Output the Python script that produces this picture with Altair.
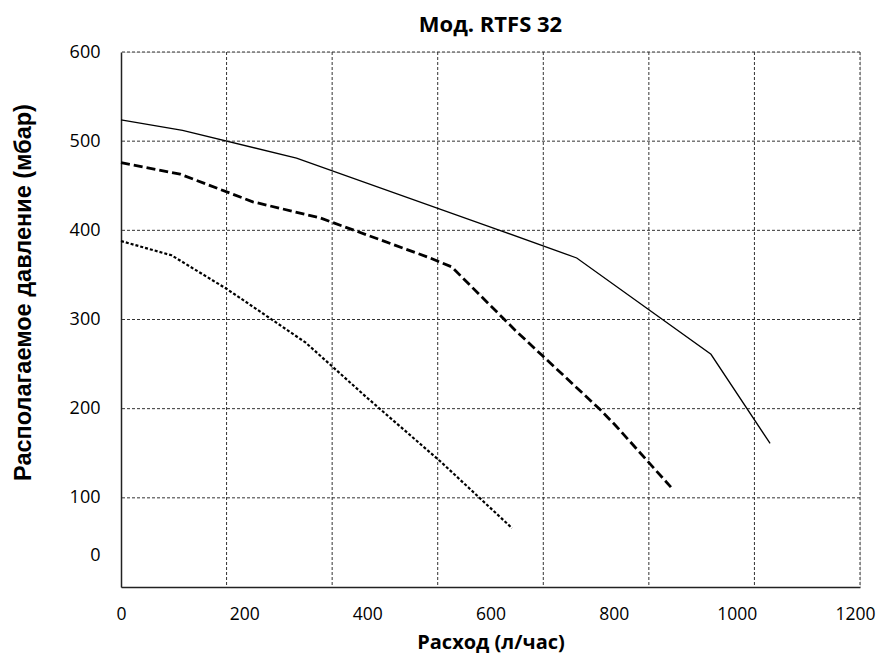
import altair as alt
import pandas as pd

# Data (flow l/h, pressure mbar)
solid_x = [0, 100, 285, 615, 740, 958, 1054]
solid_y = [524, 512, 481, 400, 369, 261, 161]

dash_x = [0, 96, 214, 323, 502, 537, 640, 778, 802, 893]
dash_y = [476, 463, 432, 414, 369, 359, 288, 199, 182, 112]

dot_x = [0, 82, 170, 198, 300, 400, 520, 635]
dot_y = [388, 372, 335, 322, 274, 212, 140, 66]

x_labels = [0, 200, 400, 600, 800, 1000, 1200]
y_labels = [35, 100, 200, 300, 400, 500, 600]
x_grid = [1200 / 7 * k for k in range(1, 8)]
y_grid = [100, 200, 300, 400, 500, 600]

rows = []
for name, xs, ys in [("solid", solid_x, solid_y), ("dash", dash_x, dash_y), ("dot", dot_x, dot_y)]:
    for i, (a, b) in enumerate(zip(xs, ys)):
        rows.append({"series": name, "q": a, "p": b, "i": i})
df = pd.DataFrame(rows)

FONT = "Open Sans"

xscale = alt.Scale(domain=[0, 1200], nice=False, zero=False)
yscale = alt.Scale(domain=[0, 600], nice=False, zero=False)

x_axis = alt.Axis(values=x_labels, format="d", grid=False, ticks=False, domain=True,
                  domainColor="#222", domainWidth=1.5, labelFont=FONT, labelFontSize=17.5,
                  labelColor="#000", labelPadding=18, title="Расход (л/час)",
                  labelOffset={"condition": {"test": "datum.value >= 1200", "value": -5}, "value": 0},
                  titleFont=FONT, titleFontSize=20, titleFontWeight="bold",
                  titleColor="#000", titlePadding=10, labelFlush=False)
y_axis = alt.Axis(values=y_labels, grid=False, ticks=False, domain=True,
                  domainColor="#222", domainWidth=1.5, labelFont=FONT, labelFontSize=18,
                  labelColor="#000", labelPadding=21,
                  labelExpr="datum.value < 50 ? '0' : datum.label",
                  title="Располагаемое давление (мбар)", titleFont="Liberation Sans",
                  titleFontSize=23.5, titleFontWeight="bold", titleColor="#000",
                  titleAngle=270, titleAlign="center", titleBaseline="middle",
                  titleX=-98, titleY=240, labelFlush=False)

gx = alt.Chart(pd.DataFrame({"q": x_grid})).mark_rule(
    color="#333", strokeWidth=1, strokeDash=[3, 2]
).encode(x=alt.X("q:Q", scale=xscale, axis=x_axis))

gy = alt.Chart(pd.DataFrame({"p": y_grid})).mark_rule(
    color="#333", strokeWidth=1, strokeDash=[3, 2]
).encode(y=alt.Y("p:Q", scale=yscale, axis=y_axis))

def line(name, width, dash=None):
    kw = dict(color="#000", strokeWidth=width)
    if dash:
        kw["strokeDash"] = dash
    return alt.Chart(df[df.series == name]).mark_line(**kw).encode(
        x=alt.X("q:Q", scale=xscale, axis=x_axis),
        y=alt.Y("p:Q", scale=yscale, axis=y_axis),
        order="i:Q",
    )

chart = alt.layer(
    gx, gy,
    line("solid", 1.3),
    line("dash", 2.8, [9, 4]),
    line("dot", 2.2, [3, 2]),
).properties(
    width=739, height=535,
    autosize=alt.AutoSizeParams(type="none"),
    padding={"left": 113, "top": 44, "right": 16, "bottom": 67},
    title=alt.Title("Мод. RTFS 32", font=FONT, fontSize=22, fontWeight="bold",
                    color="#000", offset=6, anchor="middle"),
).configure_view(stroke=None).configure(background="white")

chart.save("out.html", embed_options={"renderer": "svg", "actions": False})
